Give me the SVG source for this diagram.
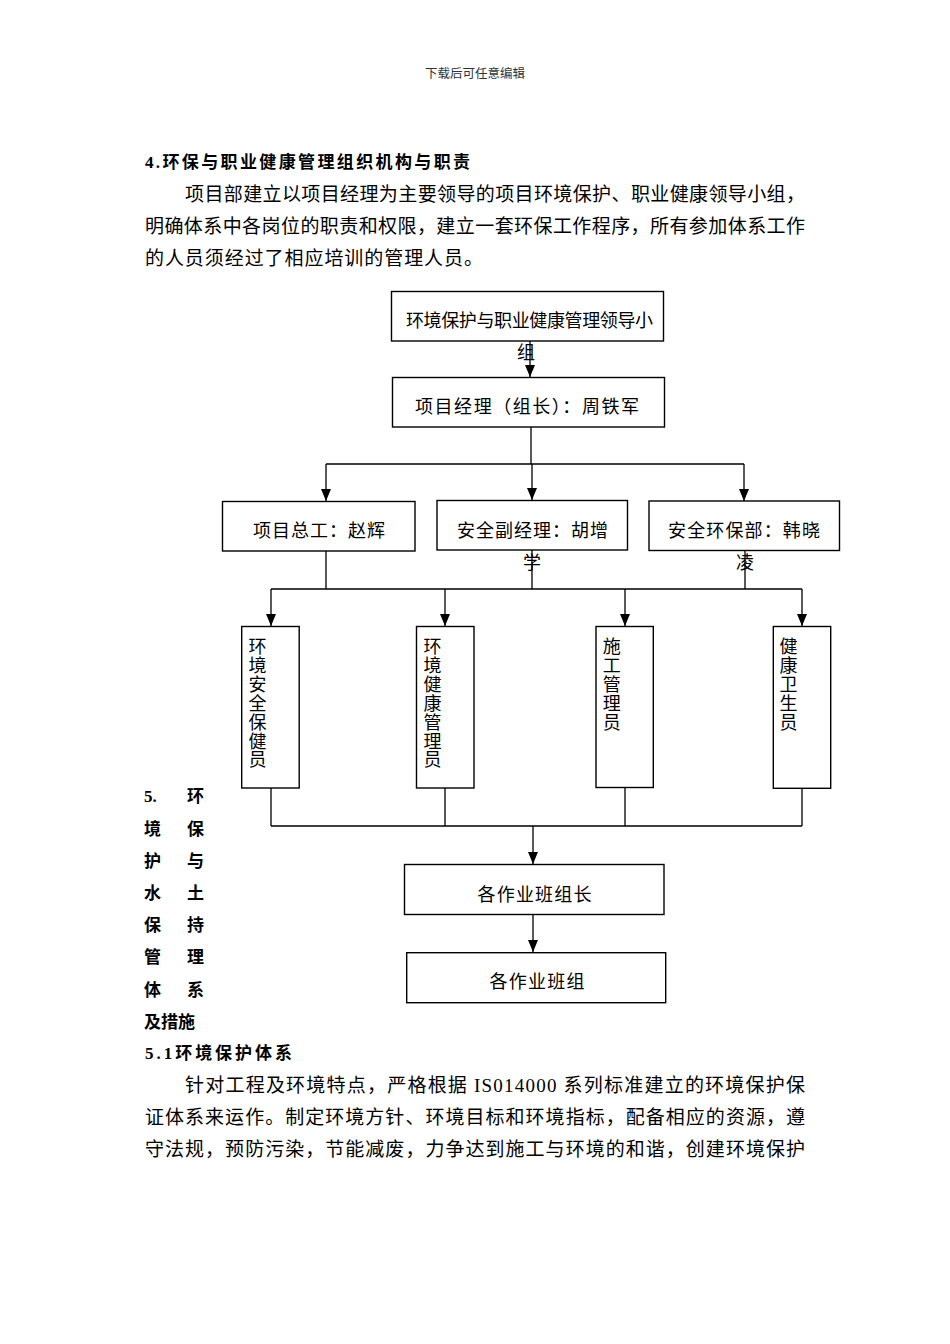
<svg xmlns="http://www.w3.org/2000/svg" width="950" height="1344" viewBox="0 0 950 1344">
<defs>
<style>
text{font-family:'Liberation Serif','Noto Sans CJK SC',serif;fill:#000}
.hd{font-size:12.5px;fill:#333}
.h{font-size:17px;font-weight:bold}
.p{font-size:19px}
.n{font-size:18px}
.b{fill:#fff;stroke:#000;stroke-width:1.4}
.c{fill:none;stroke:#000;stroke-width:1.3}
</style>
<marker id="ar" viewBox="0 0 12 10" refX="12" refY="5" markerWidth="12" markerHeight="10" markerUnits="userSpaceOnUse" orient="auto">
<path d="M0,0 L12,5 L0,10 z" fill="#000"/>
</marker>
</defs>
<rect width="950" height="1344" fill="#fff"/>

<text class="hd" x="475" y="78" text-anchor="middle">下载后可任意编辑</text>

<text class="h" x="145" y="168" textLength="325">4.环保与职业健康管理组织机构与职责</text>
<text class="p" x="185" y="201" textLength="620">项目部建立以项目经理为主要领导的项目环境保护、职业健康领导小组，</text>
<text class="p" x="145" y="233" textLength="660">明确体系中各岗位的职责和权限，建立一套环保工作程序，所有参加体系工作</text>
<text class="p" x="145" y="265" textLength="338">的人员须经过了相应培训的管理人员。</text>

<g id="connectors">
<path class="c" d="M530,341 V377" marker-end="url(#ar)"/>
<path class="c" d="M531,427 V464 M326,464 H744"/>
<path class="c" d="M326,464 V501" marker-end="url(#ar)"/>
<path class="c" d="M532,464 V500" marker-end="url(#ar)"/>
<path class="c" d="M744,464 V501" marker-end="url(#ar)"/>
<path class="c" d="M326,551 V589 M532,550 V589 M745,551 V589 M271,589 H802"/>
<path class="c" d="M271,589 V626" marker-end="url(#ar)"/>
<path class="c" d="M445,589 V626" marker-end="url(#ar)"/>
<path class="c" d="M625,589 V626" marker-end="url(#ar)"/>
<path class="c" d="M802,589 V626" marker-end="url(#ar)"/>
<path class="c" d="M271,788 V826 M445,788 V826 M625,787 V826 M802,788 V826 M271,826 H802"/>
<path class="c" d="M533,826 V864" marker-end="url(#ar)"/>
<path class="c" d="M533,914 V952" marker-end="url(#ar)"/>
</g>

<g id="node-leader-group">
<rect class="b" x="391.5" y="291.5" width="272" height="49.5"/>
<text class="n" x="406" y="327" textLength="247">环境保护与职业健康管理领导小</text>
<text class="n" x="517" y="359">组</text>
</g>

<g id="node-pm">
<rect class="b" x="392.5" y="377.5" width="272" height="49.5"/>
<text class="n" x="415" y="413" textLength="224">项目经理（组长）：周铁军</text>
</g>

<g id="node-chief-engineer">
<rect class="b" x="222.5" y="501.5" width="192.5" height="49.5"/>
<text class="n" x="253" y="537" textLength="132">项目总工：赵辉</text>
</g>

<g id="node-safety-deputy">
<rect class="b" x="437" y="500.5" width="190.5" height="49.5"/>
<text class="n" x="457" y="537" textLength="151">安全副经理：胡增</text>
<text class="n" x="523" y="569">学</text>
</g>

<g id="node-safety-env-dept">
<rect class="b" x="649" y="501" width="190.5" height="49.5"/>
<text class="n" x="668" y="537" textLength="152">安全环保部：韩晓</text>
<text class="n" x="736" y="569">凌</text>
</g>

<g id="node-v1">
<rect class="b" x="241.7" y="626.5" width="57.5" height="161.5"/>
<text class="n" x="248.5" y="653"><tspan x="248.5">环</tspan><tspan x="248.5" dy="18.9">境</tspan><tspan x="248.5" dy="18.9">安</tspan><tspan x="248.5" dy="18.9">全</tspan><tspan x="248.5" dy="18.9">保</tspan><tspan x="248.5" dy="18.9">健</tspan><tspan x="248.5" dy="18.9">员</tspan></text>
</g>

<g id="node-v2">
<rect class="b" x="416.5" y="626.5" width="57.5" height="161.5"/>
<text class="n" x="423.5" y="653"><tspan x="423.5">环</tspan><tspan x="423.5" dy="18.9">境</tspan><tspan x="423.5" dy="18.9">健</tspan><tspan x="423.5" dy="18.9">康</tspan><tspan x="423.5" dy="18.9">管</tspan><tspan x="423.5" dy="18.9">理</tspan><tspan x="423.5" dy="18.9">员</tspan></text>
</g>

<g id="node-v3">
<rect class="b" x="596" y="626.5" width="57.3" height="161"/>
<text class="n" x="602.7" y="653"><tspan x="602.7">施</tspan><tspan x="602.7" dy="18.9">工</tspan><tspan x="602.7" dy="18.9">管</tspan><tspan x="602.7" dy="18.9">理</tspan><tspan x="602.7" dy="18.9">员</tspan></text>
</g>

<g id="node-v4">
<rect class="b" x="773.3" y="626.5" width="57.4" height="161.8"/>
<text class="n" x="779.5" y="653"><tspan x="779.5">健</tspan><tspan x="779.5" dy="18.9">康</tspan><tspan x="779.5" dy="18.9">卫</tspan><tspan x="779.5" dy="18.9">生</tspan><tspan x="779.5" dy="18.9">员</tspan></text>
</g>

<g id="node-team-leaders">
<rect class="b" x="404.5" y="864.5" width="259.5" height="50"/>
<text class="n" x="477.5" y="901" textLength="114">各作业班组长</text>
</g>

<g id="node-teams">
<rect class="b" x="406.7" y="952.7" width="259" height="50"/>
<text class="n" x="489.5" y="988" textLength="95">各作业班组</text>
</g>

<g id="section5-title">
<text class="h" x="144" y="802">5.</text><text class="h" x="187" y="802">环</text>
<text class="h" x="144" y="835">境</text><text class="h" x="187" y="835">保</text>
<text class="h" x="144" y="867">护</text><text class="h" x="187" y="867">与</text>
<text class="h" x="144" y="899">水</text><text class="h" x="187" y="899">土</text>
<text class="h" x="144" y="931">保</text><text class="h" x="187" y="931">持</text>
<text class="h" x="144" y="963">管</text><text class="h" x="187" y="963">理</text>
<text class="h" x="144" y="996">体</text><text class="h" x="187" y="996">系</text>
<text class="h" x="144" y="1028">及措施</text>
</g>

<text class="h" x="145" y="1059" textLength="147">5.1环境保护体系</text>
<text class="p" x="185" y="1092" textLength="620">针对工程及环境特点，严格根据 IS014000 系列标准建立的环境保护保</text>
<text class="p" x="145" y="1124" textLength="660">证体系来运作。制定环境方针、环境目标和环境指标，配备相应的资源，遵</text>
<text class="p" x="145" y="1156" textLength="660">守法规，预防污染，节能减废，力争达到施工与环境的和谐，创建环境保护</text>
</svg>
